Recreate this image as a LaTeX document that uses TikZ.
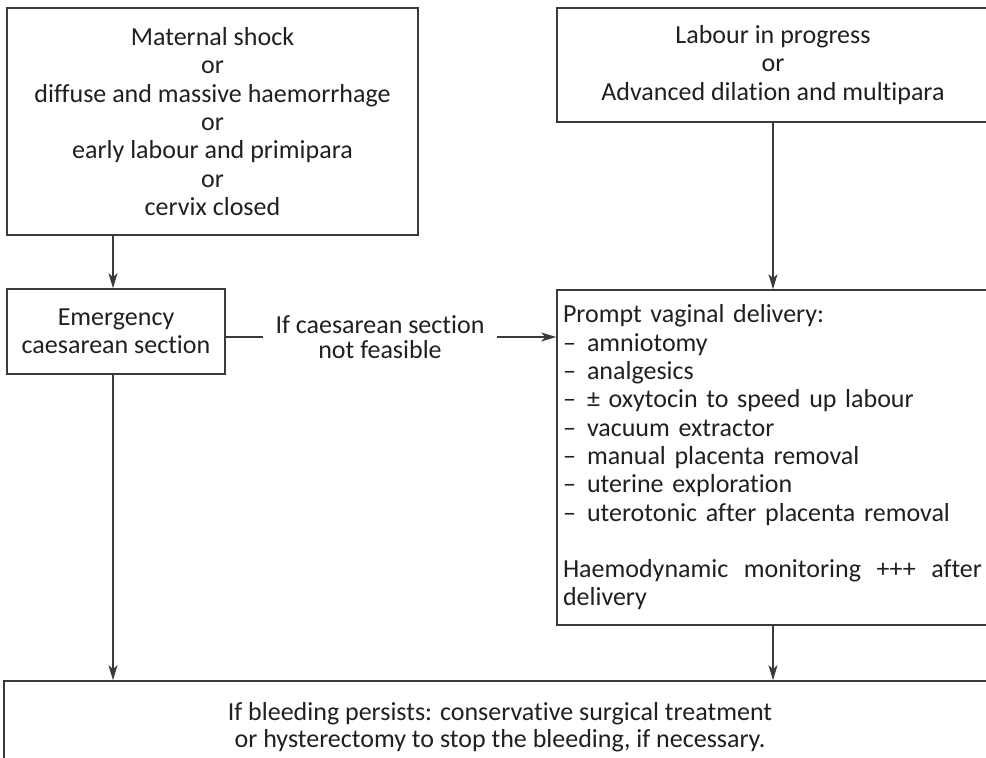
\documentclass[tikz,border=0pt]{standalone}
\usepackage{fontspec}
\setmainfont{Carlito}[Ligatures=NoCommon]
\usetikzlibrary{arrows.meta}
\definecolor{txt}{HTML}{231F20}
\definecolor{ln}{HTML}{3A3A3A}
\begin{document}
\begin{tikzpicture}[x=1pt,y=-1pt,
  box/.style={draw=ln, line width=1.6pt, inner sep=0pt, text=txt, align=center,
    font=\fontsize{26}{28.3}\selectfont},
  plain/.style={inner sep=0pt, text=txt, align=center, font=\fontsize{26}{24.5}\selectfont},
  conn/.style={draw=ln, line width=1.6pt},
  arr/.style={conn, -{Stealth[length=15pt,width=9pt,inset=4pt]}}]
\useasboundingbox (0,0) rectangle (986,758);
\clip (0,0) rectangle (986,758);
\fill[white] (0,0) rectangle (986,758);

\node[box, minimum width=411pt, minimum height=227pt] (tl) at (212.5,121.5)
  {Maternal shock\\or\\diffuse and massive haemorrhage\\or\\early labour and primipara\\or\\cervix closed};
\node[box, minimum width=432pt, minimum height=114pt] (tr) at (773,65)
  {Labour in progress\\or\\Advanced dilation and multipara};
\node[box, minimum width=218pt, minimum height=85pt] (em) at (116,331.5)
  {Emergency\\caesarean section};
\node[plain, inner xsep=12pt] (lbl) at (380,337)
  {If caesarean section\\not feasible};
\node[box, align=left, text width=420pt, inner xsep=6pt, minimum height=335pt] (pv) at (773,457.5)
  {Prompt vaginal delivery:\\
   \makebox[24pt][l]{–}amniotomy\\
   \makebox[24pt][l]{–}analgesics\\
   \makebox[24pt][l]{–}± oxytocin to speed up labour\\
   \makebox[24pt][l]{–}vacuum extractor\\
   \makebox[24pt][l]{–}manual placenta removal\\
   \makebox[24pt][l]{–}uterine exploration\\
   \makebox[24pt][l]{–}uterotonic after placenta removal\\[28.3pt]
   \makebox[419pt][l]{Haemodynamic\hfill monitoring\hfill +++\hfill after}\\
   delivery};
\node[box, minimum width=992pt, minimum height=93pt, font=\fontsize{26}{27}\selectfont] (bot) at (500,727.5)
  {If bleeding persists: conservative surgical treatment\\or hysterectomy to stop the bleeding, if necessary.};

\coordinate (xa) at (113,0);
\draw[arr] (tl.south -| xa) -- (em.north -| xa);
\draw[arr] (em.south -| xa) -- (bot.north -| xa);
\draw[arr] (tr.south) -- (pv.north);
\draw[arr] (pv.south) -- (bot.north -| pv.south);
\draw[conn] (em.east |- lbl.west) -- (lbl.west);
\draw[arr] (lbl.east) -- (pv.west |- lbl.east);
\end{tikzpicture}
\end{document}
